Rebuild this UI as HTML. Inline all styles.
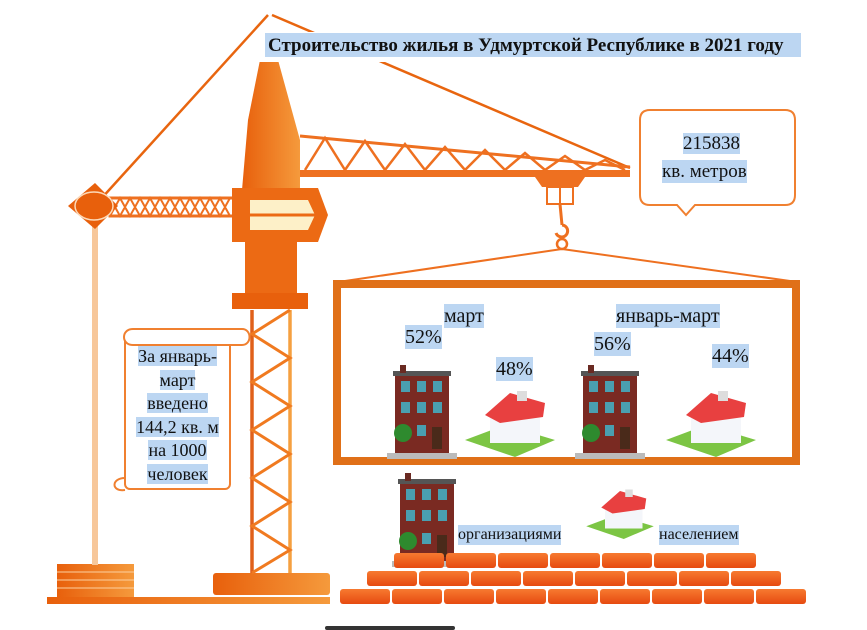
<!DOCTYPE html>
<html><head><meta charset="utf-8"><style>
body{margin:0;background:#fff;width:867px;height:630px;overflow:hidden;position:relative;font-family:"Liberation Serif",serif}
.t{position:absolute;background:#bcd6f2;color:#111;line-height:1}
</style></head><body>
<svg width="867" height="630" style="position:absolute;left:0;top:0">
<defs>
<linearGradient id="og" x1="0" y1="0" x2="1" y2="0"><stop offset="0" stop-color="#e8600c"/><stop offset="1" stop-color="#f59a3c"/></linearGradient>
<linearGradient id="br" x1="0" y1="0" x2="0" y2="1"><stop offset="0" stop-color="#f77a30"/><stop offset="1" stop-color="#e64a10"/></linearGradient>
<g id="bld">
<rect x="0" y="8" width="54" height="82" fill="#7a2a22"/>
<rect x="-2" y="6" width="58" height="5" fill="#555"/>
<rect x="5" y="0" width="6" height="8" fill="#6a2a22"/>
<g fill="#4a9fb0"><rect x="6" y="16" width="9" height="11"/><rect x="22" y="16" width="9" height="11"/><rect x="38" y="16" width="9" height="11"/><rect x="6" y="37" width="9" height="11"/><rect x="22" y="37" width="9" height="11"/><rect x="38" y="37" width="9" height="11"/><rect x="22" y="60" width="9" height="11"/></g>
<rect x="37" y="62" width="10" height="22" fill="#4a2a1a"/>
<circle cx="8" cy="68" r="9" fill="#2e8a2e"/>
<rect x="-8" y="88" width="70" height="6" fill="#bbb"/>
</g>
<g id="hs">
<polygon points="0,55 40,40 90,55 50,72" fill="#7cc544"/>
<rect x="25" y="28" width="50" height="30" fill="#f4f6fa"/>
<polygon points="20,30 45,8 80,18 78,32 35,38" fill="#e84040"/>
<rect x="52" y="6" width="10" height="10" fill="#ddd"/>
</g>
</defs>
<rect x="47" y="597" width="283" height="7" fill="url(#og)"/>
<rect x="57" y="564" width="77" height="33" fill="url(#og)"/>
<g stroke="#fcd0a0" stroke-width="1"><line x1="57" y1="572" x2="134" y2="572"/><line x1="57" y1="580" x2="134" y2="580"/><line x1="57" y1="588" x2="134" y2="588"/></g>
<rect x="213" y="573" width="117" height="22" rx="3" fill="url(#og)"/>
<rect x="92" y="225" width="6" height="340" fill="#f7c79a"/>
<line x1="100" y1="200" x2="268" y2="15" stroke="#e8650f" stroke-width="2.5"/>
<line x1="272" y1="15" x2="630" y2="168" stroke="#e8650f" stroke-width="2.5"/>
<rect x="110" y="198" width="125" height="18" fill="none" stroke="#ee7020" stroke-width="3"/>
<path d="M110,198 L120,216 L130,198 L140,216 L150,198 L160,216 L170,198 L180,216 L190,198 L200,216 L210,198 L220,216 L230,198 M110,216 L120,198 L130,216 L140,198 L150,216 L160,198 L170,216 L180,198 L190,216 L200,198 L210,216 L220,198 L230,216" stroke="#ee7020" stroke-width="2" fill="none"/>
<polygon points="95,183 118,206 95,229 68,206" fill="#e8600c"/>
<ellipse cx="94" cy="206" rx="19" ry="14" fill="none" stroke="#fcd9b8" stroke-width="1.5"/>
<line x1="300" y1="136" x2="630" y2="167" stroke="#ee7020" stroke-width="3"/>
<rect x="300" y="170" width="330" height="7" fill="#ee7020"/>
<path d="M305,170 L325,138 L345,170 L365,141 L385,170 L405,144 L425,170 L445,147 L465,170 L485,150 L505,170 L525,153 L545,170 L565,156 L585,170 L605,160 L625,170" stroke="#ee7020" stroke-width="2.5" fill="none"/>
<polygon points="535,177 585,177 578,187 542,187" fill="#ee7020"/>
<rect x="547" y="187" width="26" height="17" fill="#fff" stroke="#ee7020" stroke-width="2"/>
<line x1="560" y1="187" x2="560" y2="204" stroke="#ee7020" stroke-width="2"/>
<line x1="560" y1="204" x2="562" y2="225" stroke="#ee7020" stroke-width="3"/>
<path d="M562,225 a6,6 0 1 1 -6,8" stroke="#ee7020" stroke-width="3" fill="none"/>
<circle cx="562" cy="244" r="5" fill="none" stroke="#ee7020" stroke-width="2.5"/>
<line x1="562" y1="249" x2="345" y2="281" stroke="#ee7020" stroke-width="2"/>
<line x1="562" y1="249" x2="790" y2="281" stroke="#ee7020" stroke-width="2"/>
<polygon points="260,60 278,60 300,140 300,190 242,190 248,120" fill="url(#og)"/>
<polygon points="232,188 318,188 328,215 318,242 232,242" fill="#ec6a14"/>
<polygon points="250,200 308,200 315,215 308,230 250,230" fill="#fdf0c8"/>
<line x1="250" y1="215" x2="315" y2="215" stroke="#ec6a14" stroke-width="3"/>
<rect x="245" y="242" width="52" height="52" fill="#ec6a14"/>
<rect x="232" y="293" width="76" height="16" fill="#e8600c"/>
<line x1="252" y1="310" x2="252" y2="573" stroke="#e0601a" stroke-width="3.5"/>
<line x1="290" y1="310" x2="290" y2="573" stroke="#f5a040" stroke-width="3.5"/>
<path d="M290,310 L252,334 L290,358 L252,382 L290,406 L252,430 L290,454 L252,478 L290,502 L252,526 L290,550 L252,573" stroke="#f07a20" stroke-width="3" fill="none"/>
<rect x="337" y="284" width="459" height="177" fill="#fff" stroke="#e07018" stroke-width="8"/>
<rect x="125" y="335" width="105" height="154" fill="#fff" stroke="#f08030" stroke-width="2" rx="5"/>
<path d="M133,345 c-12,0 -12,-16 0,-16 h109 c10,0 10,16 0,16 z" fill="#fff" stroke="#f08030" stroke-width="2"/>
<path d="M125,478 c-14,0 -14,14 0,12" fill="none" stroke="#f08030" stroke-width="2"/>
<path d="M650,110 h135 q10,0 10,10 v75 q0,10 -10,10 h-90 l-9,10 l-9,-10 h-27 q-10,0 -10,-10 v-75 q0,-10 10,-10z" fill="#fff" stroke="#f08030" stroke-width="2"/>
<use href="#bld" x="395" y="365"/>
<use href="#hs" x="465" y="385"/>
<use href="#bld" x="583" y="365"/>
<use href="#hs" x="666" y="385"/>
<use href="#bld" x="400" y="473"/>
<use href="#hs" x="585" y="485" transform="translate(590,485) scale(0.75) translate(-590,-485)"/>
<g fill="url(#br)">
<rect x="394" y="553" width="50" height="15" rx="3"/><rect x="446" y="553" width="50" height="15" rx="3"/><rect x="498" y="553" width="50" height="15" rx="3"/><rect x="550" y="553" width="50" height="15" rx="3"/><rect x="602" y="553" width="50" height="15" rx="3"/><rect x="654" y="553" width="50" height="15" rx="3"/><rect x="706" y="553" width="50" height="15" rx="3"/>
<rect x="367" y="571" width="50" height="15" rx="3"/><rect x="419" y="571" width="50" height="15" rx="3"/><rect x="471" y="571" width="50" height="15" rx="3"/><rect x="523" y="571" width="50" height="15" rx="3"/><rect x="575" y="571" width="50" height="15" rx="3"/><rect x="627" y="571" width="50" height="15" rx="3"/><rect x="679" y="571" width="50" height="15" rx="3"/><rect x="731" y="571" width="50" height="15" rx="3"/>
<rect x="340" y="589" width="50" height="15" rx="3"/><rect x="392" y="589" width="50" height="15" rx="3"/><rect x="444" y="589" width="50" height="15" rx="3"/><rect x="496" y="589" width="50" height="15" rx="3"/><rect x="548" y="589" width="50" height="15" rx="3"/><rect x="600" y="589" width="50" height="15" rx="3"/><rect x="652" y="589" width="50" height="15" rx="3"/><rect x="704" y="589" width="50" height="15" rx="3"/><rect x="756" y="589" width="50" height="15" rx="3"/>
</g>
<rect x="325" y="626" width="130" height="4" rx="2" fill="#333"/>
</svg>
<div style="position:absolute;top:32px;left:255px;width:545px;height:30px;background:#fff"></div>
<div class="t" style="left:265px;top:33px;font-size:19px;font-weight:bold;padding:3px 0 2px 3px;width:533px;white-space:nowrap;overflow:hidden">Строительство жилья в Удмуртской Республике в 2021 году</div>
<div class="t" style="left:683px;top:133px;font-size:19px;padding:1px 0">215838</div>
<div class="t" style="left:662px;top:160px;font-size:19px;padding:2px 0">кв. метров</div>
<div class="t" style="left:444px;top:304px;font-size:20px;padding:2px 0">март</div>
<div class="t" style="left:405px;top:325px;font-size:20px;padding:2px 0">52%</div>
<div class="t" style="left:496px;top:357px;font-size:20px;padding:2px 0">48%</div>
<div class="t" style="left:616px;top:304px;font-size:20px;padding:2px 0">январь-март</div>
<div class="t" style="left:594px;top:332px;font-size:20px;padding:2px 0">56%</div>
<div class="t" style="left:712px;top:344px;font-size:20px;padding:2px 0">44%</div>
<div style="position:absolute;left:125px;top:345px;width:105px;text-align:center;font-size:18px;line-height:23.5px">
<span class="t" style="position:static">За январь-</span><br><span class="t" style="position:static">март</span><br><span class="t" style="position:static">введено</span><br><span class="t" style="position:static">144,2 кв. м</span><br><span class="t" style="position:static">на 1000</span><br><span class="t" style="position:static">человек</span></div>
<div class="t" style="left:458px;top:525px;font-size:16px;padding:2px 0">организациями</div>
<div class="t" style="left:659px;top:525px;font-size:16px;padding:2px 0">населением</div>
</body></html>
